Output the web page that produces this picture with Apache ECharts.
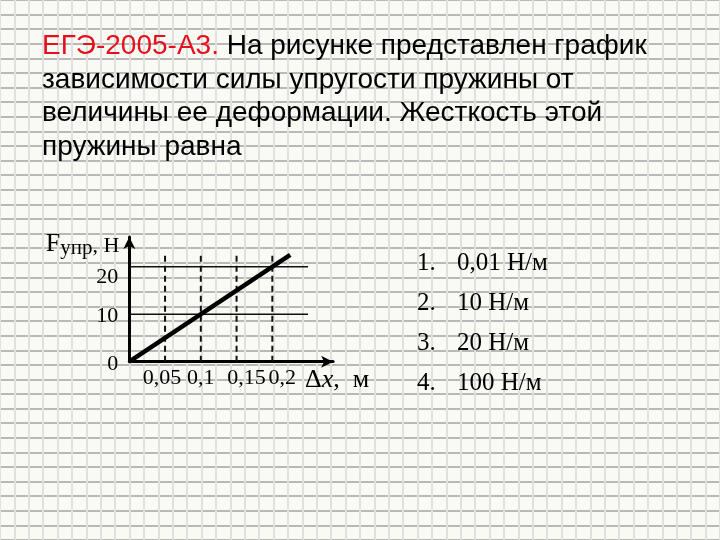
<!DOCTYPE html>
<html><head><meta charset="utf-8">
<script src="https://cdn.jsdelivr.net/npm/echarts@6/dist/echarts.min.js"></script>
<style>html,body{margin:0;padding:0;background:#fafaf5}#c{width:720px;height:540px}</style>
</head><body><div id="c"></div>
<script>
// ---- data ----
const questionHead = 'ЕГЭ-2005-А3.';
const questionLines = [' На рисунке представлен график', 'зависимости силы упругости пружины от', 'величины ее деформации. Жесткость этой', 'пружины равна'];
const answerNumbers = ['1.', '2.', '3.', '4.'];
const answerValues = ['0,01 Н/м', '10 Н/м', '20 Н/м', '100 Н/м'];
const springDx = [0, 0.225];
const springF = [0, 22.5];
const xTickValues = [0.05, 0.1, 0.15, 0.2];
const xTickLabels = ['0,05', '0,1', '0,15', '0,2'];
const yTickValues = [0, 10, 20];
const yTickLabels = ['0', '10', '20'];
const guideFValues = [10, 20];
const guideFEndDx = 0.25;
const guideDxTopF = 22.6;

// ---- chart ----
const SERIF = 'Liberation Serif, Times New Roman, serif';
const SANS = 'Liberation Sans, Arial, sans-serif';
const chart = echarts.init(document.getElementById('c'), null, {renderer: 'canvas'});

const titleText = '{r|' + questionHead + '}{b|' + questionLines[0] + '}\n' +
  questionLines.slice(1).map(l => '{b|' + l + '}').join('\n');
const answerText = answerNumbers.map((n, i) => '{n|' + n + '}{v|' + answerValues[i] + '}').join('\n');

const series = [];
guideFValues.forEach(f => series.push({
  type: 'line', xAxisIndex: 0, yAxisIndex: 0, symbol: 'none', silent: true, z: 3,
  data: [[0, f], [guideFEndDx, f]], lineStyle: {color: '#111', width: 1.5}
}));
xTickValues.forEach(v => series.push({
  type: 'line', xAxisIndex: 0, yAxisIndex: 0, symbol: 'none', silent: true, z: 3,
  data: [[v, 0], [v, guideDxTopF]], lineStyle: {color: '#111', width: 2, type: [6, 4]}
}));
series.push({
  type: 'line', xAxisIndex: 0, yAxisIndex: 0, symbol: 'none', z: 5,
  data: springDx.map((x, i) => [x, springF[i]]), lineStyle: {color: '#000', width: 4.5, cap: 'butt'}
});

const xLabelStyle = {
  s: {fontFamily: SERIF, fontSize: 22, color: '#000', padding: [0, 6, 0, 0]},
  m: {fontFamily: SERIF, fontSize: 22, color: '#000'},
  w: {fontFamily: SERIF, fontSize: 22, color: '#000', padding: [0, 0, 0, 20]}
};
const yLabelStyle = {
  hi: {fontFamily: SERIF, fontSize: 22, color: '#000', padding: [22, 0, 0, 0]},
  lo: {fontFamily: SERIF, fontSize: 22, color: '#000', padding: [5, 0, 0, 0]}
};

chart.setOption({
  animation: false,
  backgroundColor: '#fafaf5',
  title: [
    {
      left: 42, top: 30, padding: 0, text: titleText,
      textStyle: {
        fontWeight: 'normal',
        rich: {
          r: {color: '#e5101c', fontFamily: SANS, fontSize: 28, fontWeight: 'normal', lineHeight: 33.5},
          b: {color: '#000', fontFamily: SANS, fontSize: 28, fontWeight: 'normal', lineHeight: 33.5}
        }
      }
    },
    {
      left: 417, top: 244, padding: 0, text: answerText,
      textStyle: {
        fontWeight: 'normal',
        rich: {
          n: {color: '#000', fontFamily: SERIF, fontSize: 25, fontWeight: 'normal', width: 40, lineHeight: 39.7},
          v: {color: '#000', fontFamily: SERIF, fontSize: 25, fontWeight: 'normal', lineHeight: 39.7}
        }
      }
    }
  ],
  grid: [
    {left: 129.3, top: 237, width: 203.8, height: 124.7},
    {left: -1.67, top: -0.67, width: 750, height: 555}
  ],
  xAxis: [
    {
      type: 'value', gridIndex: 0, min: 0, max: 0.285,
      axisLine: {show: true, lineStyle: {color: '#000', width: 3}, symbol: ['none', 'arrow'], symbolSize: [9, 12]},
      axisTick: {show: false}, splitLine: {show: false},
      axisLabel: {
        customValues: xTickValues, margin: 6, fontFamily: SERIF, fontSize: 22, color: '#000',
        formatter: v => {
          const i = xTickValues.findIndex(t => Math.abs(t - v) < 1e-9);
          if (i < 0) return '';
          const k = i === 0 ? 's' : (i === 1 ? 'm' : 'w');
          return '{' + k + '|' + xTickLabels[i] + '}';
        },
        rich: xLabelStyle
      },
      name: '{d|Δ}{i|x}{d|,  м}', nameLocation: 'end', nameGap: -28,
      nameTextStyle: {
        align: 'left', verticalAlign: 'top', padding: [5, 0, 0, 0],
        rich: {
          d: {fontFamily: SERIF, fontSize: 26, color: '#000'},
          i: {fontFamily: SERIF, fontSize: 26, fontStyle: 'italic', color: '#000'}
        }
      }
    },
    {
      type: 'value', gridIndex: 1, min: 0, max: 50, interval: 1,
      axisLine: {show: false}, axisTick: {show: false}, axisLabel: {show: false},
      splitLine: {show: true, lineStyle: {color: '#e0e0de', width: 2}}
    }
  ],
  yAxis: [
    {
      type: 'value', gridIndex: 0, min: 0, max: 26.25,
      axisLine: {show: true, lineStyle: {color: '#000', width: 3}, symbol: ['none', 'arrow'], symbolSize: [9, 12]},
      axisTick: {show: false}, splitLine: {show: false},
      axisLabel: {
        customValues: yTickValues, margin: 11, fontFamily: SERIF, fontSize: 22, color: '#000',
        formatter: v => {
          const i = yTickValues.findIndex(t => Math.abs(t - v) < 1e-9);
          if (i < 0) return '';
          return '{' + (i === yTickValues.length - 1 ? 'hi' : 'lo') + '|' + yTickLabels[i] + '}';
        },
        rich: yLabelStyle
      },
      name: '{F|F}{s|упр}{n|, Н}', nameLocation: 'end', nameGap: -8,
      nameTextStyle: {
        align: 'right', verticalAlign: 'middle', padding: [0, 10, 0, 0],
        rich: {
          F: {fontFamily: SERIF, fontSize: 26, color: '#000', verticalAlign: 'top', lineHeight: 28},
          s: {fontFamily: SERIF, fontSize: 21, color: '#000', verticalAlign: 'top', lineHeight: 24, padding: [7, 0, 0, 0]},
          n: {fontFamily: SERIF, fontSize: 22, color: '#000', verticalAlign: 'top', lineHeight: 25, padding: [4, 0, 0, 0]}
        }
      }
    },
    {
      type: 'value', gridIndex: 1, min: 0, max: 37, interval: 1, inverse: true,
      axisLine: {show: false}, axisTick: {show: false}, axisLabel: {show: false},
      splitLine: {show: true, lineStyle: {color: '#a2a2a0', width: 1.5}}
    }
  ],
  series: series
});
</script>
</body></html>
